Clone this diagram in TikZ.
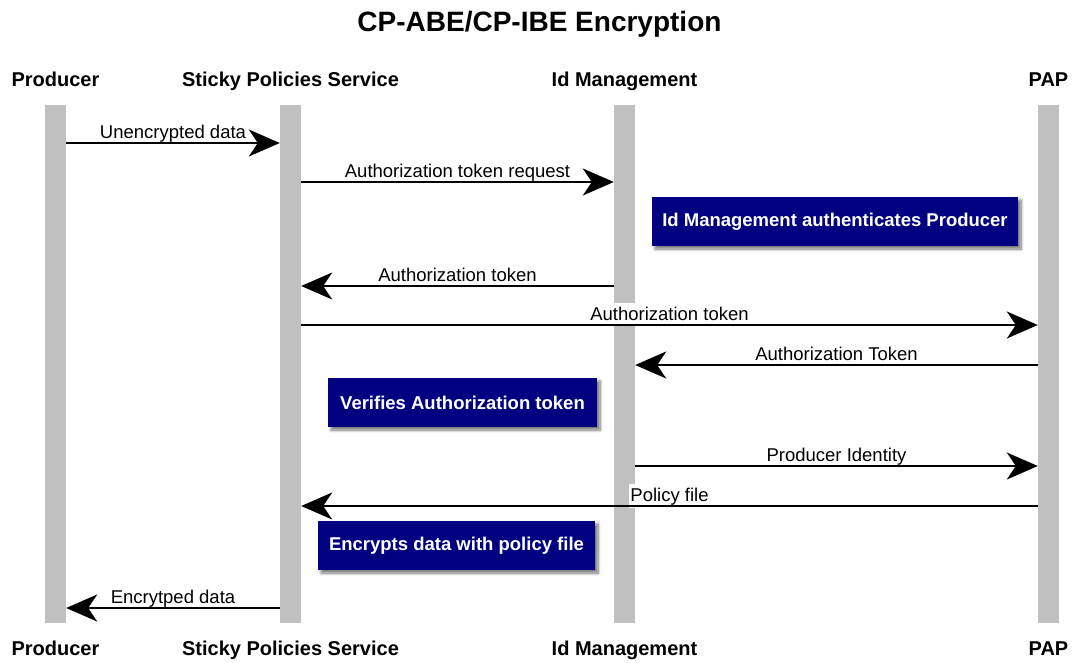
\documentclass[tikz,border=0pt]{standalone}
\usepackage{fontspec}
\setmainfont{Liberation Sans}
\usetikzlibrary{arrows.meta,shadows.blur}
\definecolor{lifegray}{HTML}{C0C0C0}
\definecolor{notenavy}{HTML}{000080}
\tikzset{
  lifeline/.style={fill=lifegray, draw=none, minimum width=21pt, minimum height=518pt, inner sep=0pt},
  actor/.style={font=\fontsize{20}{22}\selectfont\bfseries, anchor=base},
  msg/.style={line width=2pt, -{Stealth[length=31pt,width=27pt,inset=9pt]}},
  msglabel/.style={font=\fontsize{18.5}{20}\selectfont, fill=white, inner xsep=1.5pt, inner ysep=3.5pt, anchor=base, yshift=5pt},
  note/.style={fill=notenavy, text=white, font=\fontsize{18.5}{20}\selectfont\bfseries, inner sep=0pt, minimum height=49pt,
    blur shadow={shadow xshift=3pt, shadow yshift=-3pt, shadow blur radius=3pt, shadow blur steps=8, shadow opacity=55}},
}
\begin{document}
\begin{tikzpicture}[x=1pt, y=-1pt]
\useasboundingbox (0,0) rectangle (1072,662);

% title
\node[font=\fontsize{28}{30}\selectfont\bfseries, anchor=base] (title) at (539.5,31) {CP-ABE/CP-IBE Encryption};

% participants, top and bottom
\node[actor] (prodTop) at (55.5,86)   {Producer};
\node[actor] (spsTop)  at (290.5,86)  {Sticky Policies Service};
\node[actor] (idmTop)  at (624.5,86)  {Id Management};
\node[actor] (papTop)  at (1048.5,86) {PAP};
\node[actor] (prodBot) at (55.5,655)   {Producer};
\node[actor] (spsBot)  at (290.5,655)  {Sticky Policies Service};
\node[actor] (idmBot)  at (624.5,655)  {Id Management};
\node[actor] (papBot)  at (1048.5,655) {PAP};

% lifelines
\node[lifeline] (prodL) at (55.5,364)   {};
\node[lifeline] (spsL)  at (290.5,364)  {};
\node[lifeline] (idmL)  at (624.5,364)  {};
\node[lifeline] (papL)  at (1048.5,364) {};

% notes
\node[note, minimum width=366pt] (n1) at (835,221.5)   {Id Management authenticates Producer};
\node[note, minimum width=269pt] (n2) at (462.5,402.5) {Verifies Authorization token};
\node[note, minimum width=277pt] (n3) at (456.5,545.5) {Encrypts data with policy file};

% message end points
\coordinate (a1) at (prodL.east |- 0,143); \coordinate (b1) at (spsL.west |- 0,143);
\coordinate (a2) at (spsL.east |- 0,182);  \coordinate (b2) at (idmL.west |- 0,182);
\coordinate (a3) at (idmL.west |- 0,286);  \coordinate (b3) at (spsL.east |- 0,286);
\coordinate (a4) at (spsL.east |- 0,325);  \coordinate (b4) at (papL.west |- 0,325);
\coordinate (a5) at (papL.west |- 0,365);  \coordinate (b5) at (idmL.east |- 0,365);
\coordinate (a6) at (idmL.east |- 0,466);  \coordinate (b6) at (papL.west |- 0,466);
\coordinate (a7) at (papL.west |- 0,506);  \coordinate (b7) at (spsL.east |- 0,506);
\coordinate (a8) at (spsL.west |- 0,608);  \coordinate (b8) at (prodL.east |- 0,608);

% message labels
\path (a1) -- (b1) node[msglabel, midway] (l1) {Unencrypted data};
\path (a2) -- (b2) node[msglabel, midway] (l2) {Authorization token request};
\path (a3) -- (b3) node[msglabel, midway] (l3) {Authorization token};
\path (a4) -- (b4) node[msglabel, midway] (l4) {Authorization token};
\path (a5) -- (b5) node[msglabel, midway] (l5) {Authorization Token};
\path (a6) -- (b6) node[msglabel, midway] (l6) {Producer Identity};
\path (a7) -- (b7) node[msglabel, midway] (l7) {Policy file};
\path (a8) -- (b8) node[msglabel, midway] (l8) {Encrytped data};

% messages
\draw[msg] (a1) -- (b1);
\draw[msg] (a2) -- (b2);
\draw[msg] (a3) -- (b3);
\draw[msg] (a4) -- (b4);
\draw[msg] (a5) -- (b5);
\draw[msg] (a6) -- (b6);
\draw[msg] (a7) -- (b7);
\draw[msg] (a8) -- (b8);
\end{tikzpicture}
\end{document}
